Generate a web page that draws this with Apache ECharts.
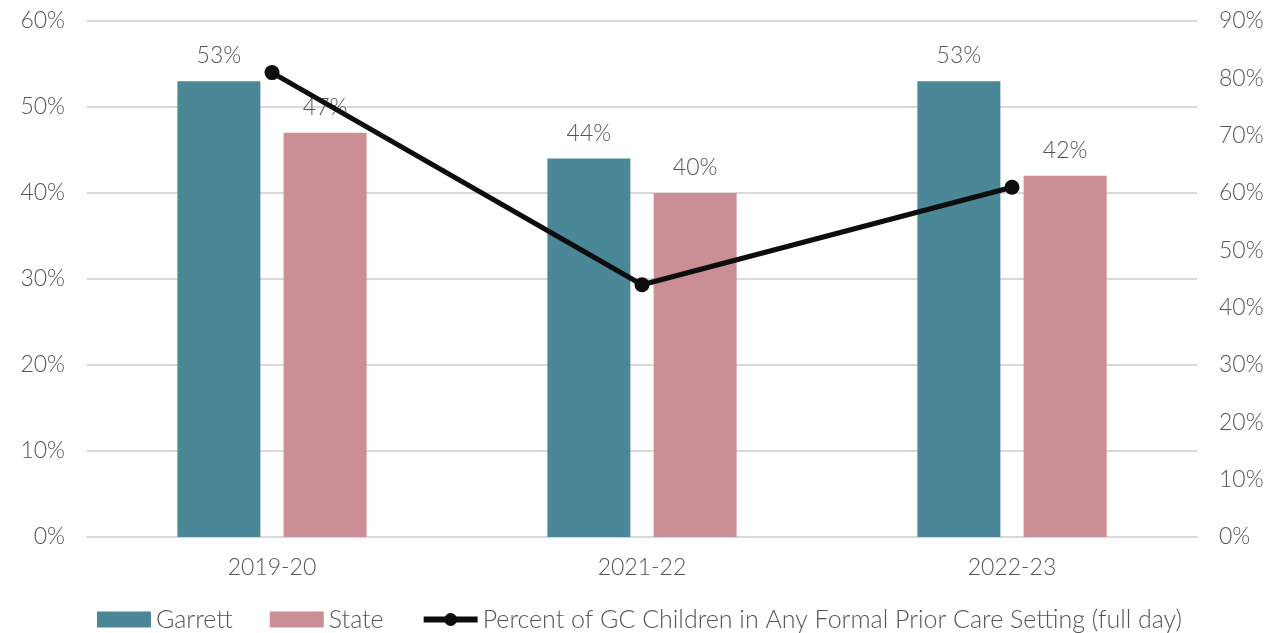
<!DOCTYPE html>
<html><head><meta charset="utf-8">
<script src="https://cdn.jsdelivr.net/npm/echarts@6/dist/echarts.min.js"></script>
<style>html,body{margin:0;padding:0;background:#fff}#c{width:1279px;height:633px}</style>
</head><body><div id="c"></div>
<script>
const categories = ['2019-20', '2021-22', '2022-23'];
const garrett = [53, 44, 53];
const state = [47, 40, 42];
const formalCare = [81, 44, 61];
const leftTicks = [0, 10, 20, 30, 40, 50, 60];
const rightTicks = [0, 10, 20, 30, 40, 50, 60, 70, 80, 90];

const FONT = 'Lato';
const FW = 300;
const TXT = '#555555';
const chart = echarts.init(document.getElementById('c'));
chart.setOption({
  animation: false,
  textStyle: { fontFamily: FONT, fontWeight: FW },
  grid: { left: 87, right: 82, top: 21, bottom: 96, containLabel: false },
  legend: {
    bottom: -4, left: 'center',
    itemWidth: 54, itemHeight: 16, itemGap: 37,
    textStyle: { fontFamily: FONT, fontWeight: FW, fontSize: 25, color: TXT },
    data: [
      { name: 'Garrett', icon: 'rect' },
      { name: 'State', icon: 'rect' },
      { name: 'Percent of GC Children in Any Formal Prior Care Setting (full day)',
        lineStyle: { width: 6, color: '#0d0d0d' } }
    ]
  },
  xAxis: {
    type: 'category', data: categories,
    axisLine: { lineStyle: { color: '#d9d9d9', width: 2 } },
    axisTick: { show: false },
    axisLabel: { color: TXT, fontSize: 23, margin: 19, fontFamily: FONT, fontWeight: FW }
  },
  yAxis: [
    {
      type: 'value', min: leftTicks[0], max: leftTicks[leftTicks.length - 1], interval: 10,
      axisLabel: { formatter: '{value}%', color: TXT, fontSize: 23, margin: 22, fontFamily: FONT, fontWeight: FW },
      splitLine: { lineStyle: { color: '#d9d9d9', width: 2 } },
      axisLine: { show: false }, axisTick: { show: false }
    },
    {
      type: 'value', min: rightTicks[0], max: rightTicks[rightTicks.length - 1], interval: 10,
      position: 'right',
      axisLabel: { formatter: '{value}%', color: TXT, fontSize: 23, margin: 22, fontFamily: FONT, fontWeight: FW },
      splitLine: { show: false }, axisLine: { show: false }, axisTick: { show: false }
    }
  ],
  series: [
    {
      name: 'Garrett', type: 'bar', data: garrett, barWidth: 83, barGap: '28%',
      itemStyle: { color: '#4a8898' },
      label: { show: true, position: 'top', distance: 14, formatter: '{c}%', color: TXT, fontSize: 23, fontFamily: FONT, fontWeight: FW },
      z: 2
    },
    {
      name: 'State', type: 'bar', data: state, barWidth: 83,
      itemStyle: { color: '#cc8e96' },
      label: { show: true, position: 'top', distance: 14, formatter: '{c}%', color: TXT, fontSize: 23, fontFamily: FONT, fontWeight: FW },
      z: 2
    },
    {
      name: 'Percent of GC Children in Any Formal Prior Care Setting (full day)',
      type: 'line', yAxisIndex: 1, data: formalCare,
      symbol: 'circle', symbolSize: 15,
      lineStyle: { color: '#0d0d0d', width: 5 },
      itemStyle: { color: '#0d0d0d' },
      z: 10
    }
  ]
});
</script>
</body></html>
